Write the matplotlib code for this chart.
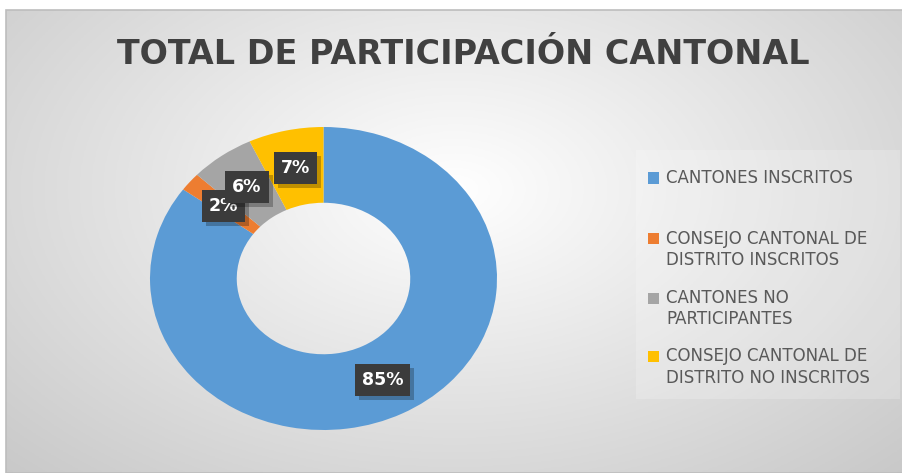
import numpy as np
import matplotlib.pyplot as plt
import matplotlib.patheffects as pe
from matplotlib.patches import Rectangle

# chart data
categories = ['CANTONES INSCRITOS',
              'CONSEJO CANTONAL DE\nDISTRITO INSCRITOS',
              'CANTONES NO\nPARTICIPANTES',
              'CONSEJO CANTONAL DE\nDISTRITO NO INSCRITOS']
values = [85, 2, 6, 7]
colors = ['#5B9BD5', '#ED7D31', '#A5A5A5', '#FFC000']
title = 'TOTAL DE PARTICIPACIÓN CANTONAL'

W, H = 903, 473
fig = plt.figure(figsize=(W / 100, H / 100), dpi=100)


def fx(x):
    return x / W


def fy(y):
    return 1 - y / H


# radial gray gradient background of the chart area
bg = fig.add_axes([fx(6), 0, 1 - fx(6), 1 - 10 / H])
xx, yy = np.meshgrid(np.linspace(6, 903, 300), np.linspace(10, 473, 160))
d = np.sqrt(((xx - 455) / 450) ** 2 + ((yy - 190) / 280) ** 2)
v = np.clip(1 - 0.15 * d, 0, 1)
bg.imshow(np.dstack([v, v, v]), extent=[0, 1, 0, 1], aspect='auto', origin='upper')
bg.add_patch(Rectangle((0, 0), 1, 1, fill=False, ec='#bdbdbd', lw=1.2,
                       transform=bg.transAxes, clip_on=False))
bg.axis('off')

# donut (stretched horizontally like the original)
ax = fig.add_axes([fx(150), fy(430), (497 - 150) / W, (430 - 127) / H])
wedges, _ = ax.pie(values, colors=colors, startangle=90, counterclock=False,
                   radius=1, wedgeprops=dict(width=0.5, linewidth=0))
ax.set_aspect('auto')
ax.set_xlim(-1, 1)
ax.set_ylim(-1, 1)

# percentage labels in dark boxes with a soft shadow
for w, val in zip(wedges, values):
    ang = np.deg2rad((w.theta1 + w.theta2) / 2)
    x, y = 0.75 * np.cos(ang), 0.75 * np.sin(ang)
    t = ax.text(x, y, f'{val}%', ha='center', va='center', fontsize=12.5,
                fontweight='bold', color='white',
                bbox=dict(boxstyle='square,pad=0.4', fc='#3b3b3b', ec='none'))
    t.get_bbox_patch().set_path_effects(
        [pe.SimplePatchShadow(offset=(3, -3), shadow_rgbFace='black', alpha=0.25),
         pe.Normal()])

# title
fig.text(fx(463), fy(64), title, ha='center', va='baseline', fontsize=24,
         fontweight='bold', color='#404040')

# legend drawn by hand to keep Excel's spacing
fig.patches.append(Rectangle((fx(636), fy(399)), (900 - 636) / W, (399 - 150) / H,
                             transform=fig.transFigure, fc='white', ec='none',
                             alpha=0.2))
entry_centers = [178, 249.5, 308.5, 367]
line_px = 21
for lab, col, yc in zip(categories, colors, entry_centers):
    nlines = lab.count('\n') + 1
    ym = yc - (nlines - 1) * line_px / 2
    fig.patches.append(Rectangle((fx(648), fy(ym + 5.5)), 11 / W, 11 / H,
                                 transform=fig.transFigure, fc=col, ec='none'))
    fig.text(fx(666), fy(yc), lab, ha='left', va='center', fontsize=12,
             color='#595959', linespacing=1.25)

fig.savefig('out.png', dpi=100, facecolor='white')
